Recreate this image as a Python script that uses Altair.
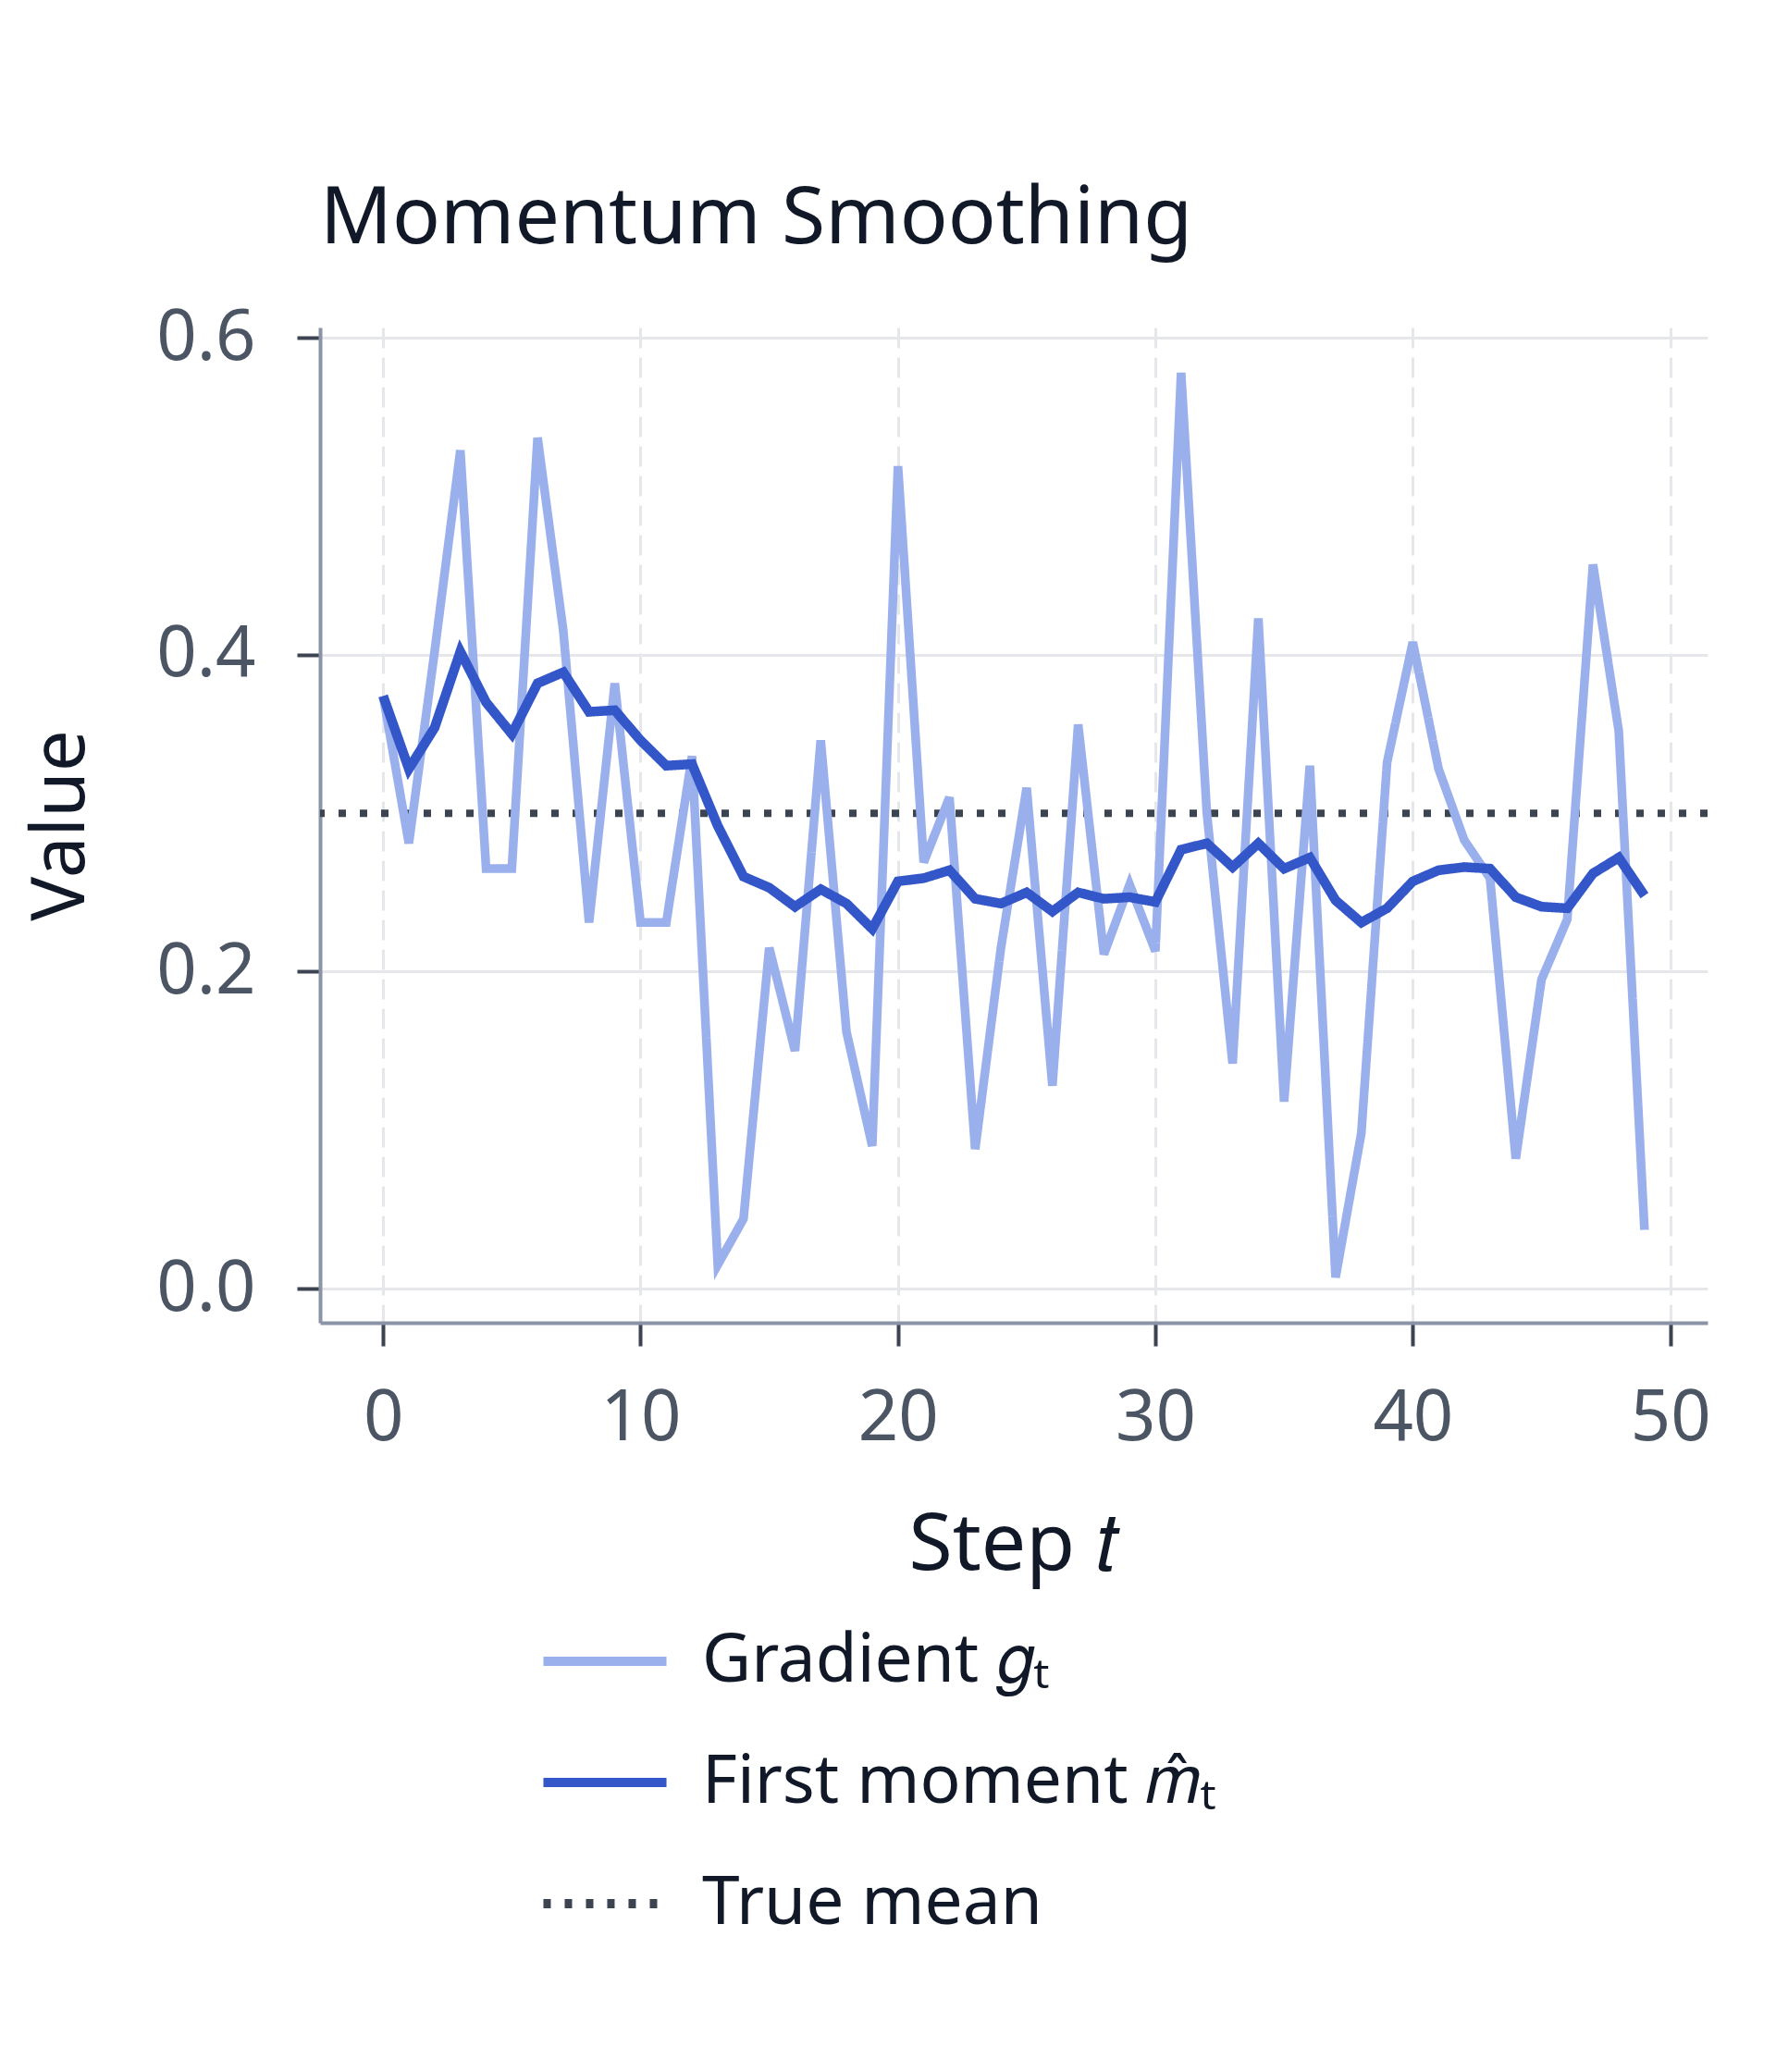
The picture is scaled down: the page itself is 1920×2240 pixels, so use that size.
import altair as alt
import pandas as pd

steps = list(range(50))

gradient = [0.374, 0.281, 0.402, 0.529, 0.265, 0.265, 0.537, 0.415, 0.231, 0.382,
            0.231, 0.231, 0.336, 0.015, 0.044, 0.215, 0.150, 0.346, 0.162, 0.090,
            0.519, 0.269, 0.310, 0.088, 0.215, 0.316, 0.128, 0.356, 0.211, 0.255,
            0.213, 0.578, 0.300, 0.142, 0.423, 0.118, 0.330, 0.007, 0.098, 0.332,
            0.408, 0.328, 0.283, 0.259, 0.082, 0.195, 0.233, 0.457, 0.352, 0.037]

first_moment = [0.374, 0.328, 0.354, 0.402, 0.370, 0.350, 0.382, 0.389, 0.364, 0.365,
                0.346, 0.330, 0.331, 0.292, 0.260, 0.253, 0.241, 0.252, 0.243, 0.227,
                0.257, 0.259, 0.264, 0.246, 0.243, 0.250, 0.238, 0.250, 0.246, 0.247,
                0.244, 0.277, 0.281, 0.266, 0.281, 0.265, 0.272, 0.245, 0.231, 0.240,
                0.257, 0.264, 0.266, 0.265, 0.247, 0.241, 0.240, 0.262, 0.272, 0.248]

true_mean = 0.3

series_names = ["Gradient 𝑔ₜ", "First moment 𝑚̂ₜ", "True mean"]
series_colors = ["#9ab0ec", "#3357c9", "#3d4451"]
series_dash = [[1, 0], [1, 0], [8, 15]]

FONT = "Noto Sans"

lines = pd.DataFrame({
    "step": steps * 2,
    "value": gradient + first_moment,
    "series": [series_names[0]] * len(steps) + [series_names[1]] * len(steps),
})
mean_df = pd.DataFrame({"value": [true_mean], "series": [series_names[2]]})

color = alt.Color(
    "series:N",
    scale=alt.Scale(domain=series_names, range=series_colors),
    legend=alt.Legend(
        title=None,
        orient="none",
        legendX=236,
        legendY=1370,
        direction="vertical",
        symbolType="stroke",
        symbolSize=17700,
        symbolStrokeWidth=10,
        labelFontSize=73,
        labelFont=FONT,
        labelColor="#111827",
        labelOffset=33,
        rowPadding=22,
        labelLimit=1000,
    ),
)
dash = alt.StrokeDash(
    "series:N",
    scale=alt.Scale(domain=series_names, range=series_dash),
    legend=None,
)

x = alt.X(
    "step:Q",
    title="Step 𝑡",
    scale=alt.Scale(domain=[-2.45, 51.45], nice=False, zero=False),
    axis=alt.Axis(values=[0, 10, 20, 30, 40, 50], format="d"),
)
y = alt.Y(
    "value:Q",
    title="Value",
    scale=alt.Scale(domain=[-0.0216, 0.6066], nice=False, zero=False),
    axis=alt.Axis(values=[0.0, 0.2, 0.4, 0.6], format=".1f"),
)

grad_line = (
    alt.Chart(lines)
    .transform_filter(alt.datum.series == series_names[0])
    .mark_line(strokeWidth=9.5)
    .encode(x=x, y=y, color=color, strokeDash=dash)
)
moment_line = (
    alt.Chart(lines)
    .transform_filter(alt.datum.series == series_names[1])
    .mark_line(strokeWidth=10.5)
    .encode(x=x, y=y, color=color, strokeDash=dash)
)
mean_rule = (
    alt.Chart(mean_df)
    .mark_rule(strokeWidth=8)
    .encode(y=alt.Y("value:Q"), color=color, strokeDash=dash)
)

chart = (
    alt.layer(mean_rule, grad_line, moment_line)
    .properties(
        width=1500,
        height=1076,
        title=alt.TitleParams("Momentum Smoothing", anchor="start", frame="group",
                              fontSize=86, font=FONT, fontWeight="normal",
                              color="#111827", offset=46),
        padding={"left": 18, "top": 186, "right": 40, "bottom": 40},
    )
    .configure_view(stroke=None)
    .configure_axis(
        labelFont=FONT,
        titleFont=FONT,
        labelFontSize=76,
        titleFontWeight="normal",
        labelColor="#4b5563",
        titleColor="#111827",
        domainColor="#8a94a6",
        domainWidth=4,
        tickColor="#3d4451",
        tickWidth=4,
        tickSize=25,
        gridColor="#e5e7eb",
        gridWidth=3,
    )
    .configure_axisX(gridDash=[22, 10], titlePadding=57, titleFontSize=86, labelPadding=41)
    .configure_axisY(titlePadding=61, titleFontSize=80, labelPadding=45)
)

chart.save("out.html", embed_options={"renderer": "svg", "actions": False})
